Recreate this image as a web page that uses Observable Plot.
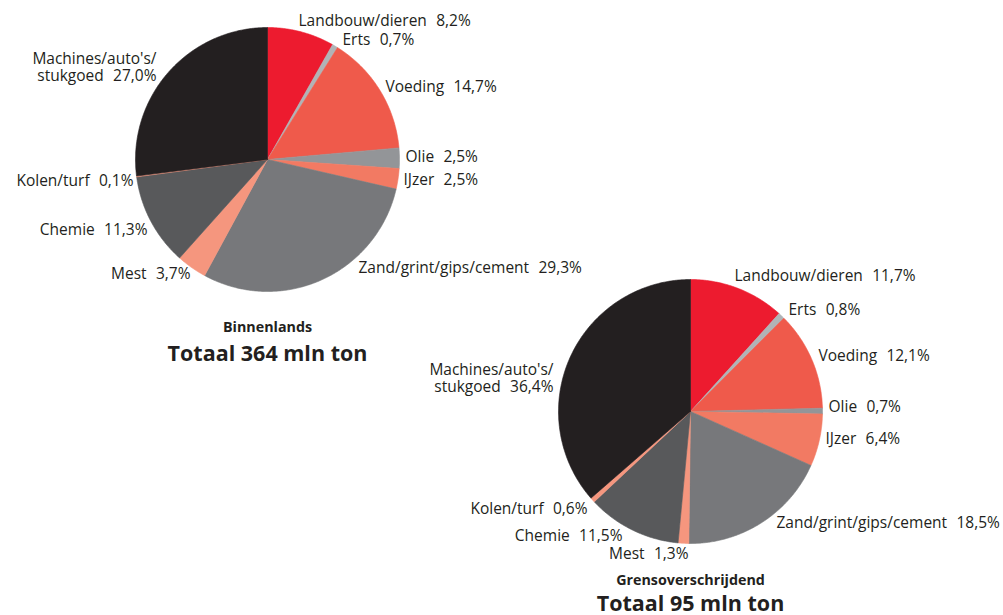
<!DOCTYPE html>
<html>
<head>
<meta charset="utf-8">
<script src="https://cdn.jsdelivr.net/npm/d3@7"></script>
<script src="https://cdn.jsdelivr.net/npm/@observablehq/plot@0.6"></script>
<style>
  html, body { margin: 0; padding: 0; background: #fff; }
  #chart svg { display: block; }
</style>
</head>
<body>
<div id="chart"></div>
<script>
// ---- data ----
const categories = ["Landbouw/dieren", "Erts", "Voeding", "Olie", "IJzer", "Zand/grint/gips/cement", "Mest", "Chemie", "Kolen/turf", "Machines/auto's/\nstukgoed"];
const binnenlands = [8.2, 0.7, 14.7, 2.5, 2.5, 29.3, 3.7, 11.3, 0.1, 27.0];
const grensoverschrijdend = [11.7, 0.8, 12.1, 0.7, 6.4, 18.5, 1.3, 11.5, 0.6, 36.4];
const colors = ["#ED1B2F", "#B1B3B6", "#EF5A4B", "#939598", "#F27A63", "#77787B", "#F5967E", "#58595B", "#F5967E", "#231F20"];
const pieTitles = ["Binnenlands", "Grensoverschrijdend"];
const pieTotals = ["Totaal 364 mln ton", "Totaal 95 mln ton"];

// ---- layout (pixel-space units) ----
const W = 1003, H = 615;
const pies = [
  {values: binnenlands, cx: 267, cy: 159, r: 132,
   labels: [[298, 21, "start"], [342, 40, "start"], [385, 87, "start"], [405, 157, "start"], [403, 180, "start"],
            [358, 268, "start"], [190, 273, "end"], [147, 229, "end"], [133, 180, "end"], [156, 67, "end"]],
   title: [267, 327], total: [267, 354]},
  {values: grensoverschrijdend, cx: 690, cy: 411, r: 132,
   labels: [[734, 276, "start"], [788, 310, "start"], [818, 356, "start"], [828, 407, "start"], [825, 439, "start"],
            [776, 523, "start"], [688, 553, "end"], [622, 535, "end"], [587, 508, "end"], [553, 378, "end"]],
   title: [690, 580], total: [690, 604]}
];

const fmt = v => d3.format(".1f")(v).replace(".", ",") + "%";
const gap = "\u2002\u200A";

const marks = [];
const labelRows = [];
const titleRows = [];
const totalRows = [];
pies.forEach((p, pi) => {
  const sum = d3.sum(p.values);
  let acc = 0;
  p.values.forEach((v, i) => {
    const a0 = acc / sum * 2 * Math.PI;
    acc += v;
    const a1 = acc / sum * 2 * Math.PI;
    const n = Math.max(2, Math.ceil((a1 - a0) / (Math.PI / 360)));
    const pts = [{x: p.cx, y: p.cy}];
    for (let k = 0; k <= n; k++) {
      const a = a0 + (a1 - a0) * k / n;
      pts.push({x: p.cx + p.r * Math.sin(a), y: p.cy - p.r * Math.cos(a)});
    }
    pts.push({x: p.cx, y: p.cy});
    marks.push(Plot.line(pts, {x: "x", y: "y", fill: colors[i], stroke: colors[i], strokeWidth: 0.6, strokeLinejoin: "miter"}));
    const [lx, ly, anchor] = p.labels[i];
    labelRows.push({x: lx, y: ly, anchor, text: categories[i] + gap + fmt(v)});
  });
  titleRows.push({x: p.title[0], y: p.title[1], text: pieTitles[pi]});
  totalRows.push({x: p.total[0], y: p.total[1], text: pieTotals[pi]});
});

const labelFont = "'Open Sans', 'Noto Sans', sans-serif";
const FS = 15.5;
marks.push(
  Plot.text(labelRows.filter(d => d.anchor === "start"), {x: "x", y: "y", text: "text", textAnchor: "start", fill: "#231F20", fontSize: FS, fontFamily: labelFont}),
  Plot.text(labelRows.filter(d => d.anchor === "end"), {x: "x", y: "y", text: "text", textAnchor: "end", lineHeight: 1.1, fill: "#231F20", fontSize: FS, fontFamily: labelFont}),
  Plot.text(titleRows, {x: "x", y: "y", text: "text", fill: "#231F20", fontSize: 14.3, fontWeight: "bold", fontFamily: labelFont}),
  Plot.text(totalRows, {x: "x", y: "y", text: "text", fill: "#231F20", fontSize: 21.5, fontWeight: "bold", fontFamily: labelFont})
);

const chart = Plot.plot({
  width: W, height: H,
  margin: 0,
  x: {domain: [0, W], range: [0, W], axis: null},
  y: {domain: [0, H], range: [0, H], axis: null},
  style: {background: "#fff"},
  marks
});
document.getElementById("chart").appendChild(chart);
</script>
</body>
</html>
